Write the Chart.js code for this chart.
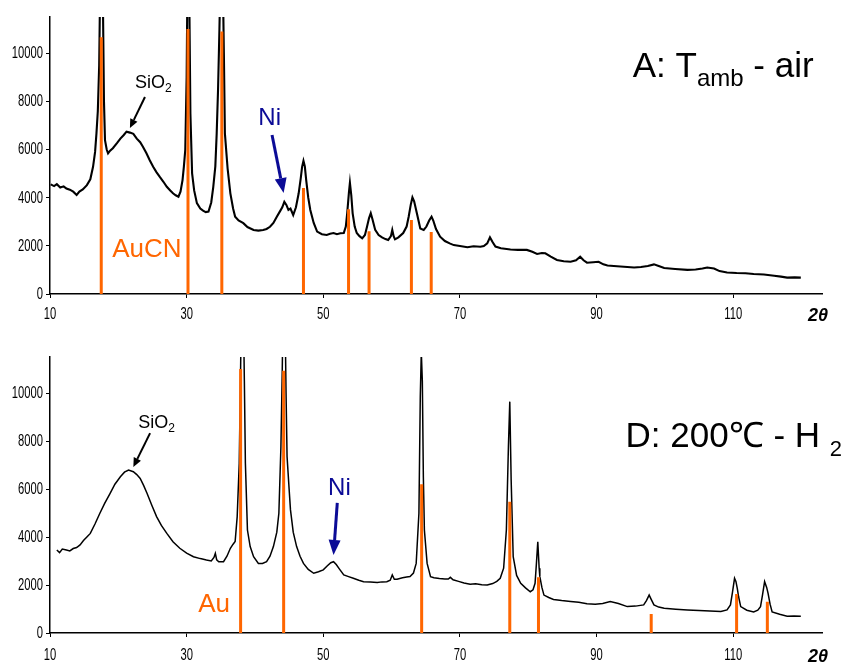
<!DOCTYPE html>
<html>
<head>
<meta charset="utf-8">
<script src="https://cdn.jsdelivr.net/npm/chart.js@4.4.0/dist/chart.umd.min.js"></script>
<style>
  body { margin: 0; background: #fff; width: 852px; height: 662px; overflow: hidden; }
  .panel { position: absolute; left: 0; width: 852px; height: 331px; }
</style>
</head>
<body>
<div class="panel" style="top:0"><canvas id="chart-a"></canvas></div>
<div class="panel" style="top:331px"><canvas id="chart-d"></canvas></div>
<script>
const xTickValues = [10, 30, 50, 70, 90, 110];
const yTickValues = [0, 2000, 4000, 6000, 8000, 10000];

// sample A: T amb - air (2theta, counts)
const twoThetaA = [
  10.1, 10.6, 11.0, 11.5, 12.0, 12.4, 12.9, 13.4, 13.9, 14.3, 14.8, 15.4, 15.9, 16.3, 16.6, 16.8, 17.0, 17.2,
  17.35, 17.55, 17.75, 17.9, 18.05, 18.3, 18.5, 18.8, 19.2, 19.8, 20.3, 20.8, 21.2, 21.7, 22.2, 22.7, 23.2,
  23.6, 24.1, 24.6, 25.1, 25.6, 26.1, 26.6, 27.1, 27.6, 28.0, 28.4, 28.8, 29.1, 29.4, 29.6, 29.8, 30.0, 30.15,
  30.35, 30.55, 30.8, 31.1, 31.5, 32.0, 32.4, 32.8, 33.2, 33.6, 33.9, 34.2, 34.4, 34.6, 34.8, 35.0, 35.25,
  35.45, 35.6, 36.0, 36.4, 36.8, 37.1, 37.6, 38.3, 38.9, 39.8, 40.5, 41.2, 41.7, 42.2, 42.7, 43.2, 43.7, 44.0,
  44.3, 44.6, 44.9, 45.2, 45.6, 46.0, 46.4, 46.7, 46.9, 47.1, 47.3, 47.5, 47.8, 48.1, 48.6, 49.1, 49.8, 50.5,
  51.0, 51.5, 52.0, 52.5, 53.0, 53.3, 53.5, 53.75, 53.9, 54.1, 54.3, 54.6, 54.9, 55.3, 55.7, 56.1, 56.4, 56.7,
  56.95, 57.2, 57.6, 58.1, 58.6, 59.1, 59.5, 59.9, 60.1, 60.3, 60.5, 61.0, 61.7, 62.2, 62.5, 62.8, 63.05, 63.3,
  63.7, 64.2, 64.7, 65.1, 65.5, 65.85, 66.1, 66.5, 67.1, 67.8, 68.5, 69.1, 70.0, 71.1, 72.0, 73.0, 73.5, 74.0,
  74.4, 74.8, 75.2, 76.0, 77.4, 78.5, 79.8, 80.6, 81.3, 82.0, 82.5, 83.3, 84.2, 85.2, 86.2, 87.0, 87.6, 88.1,
  88.6, 89.5, 90.3, 91.0, 91.6, 93.0, 94.5, 95.5, 96.5, 97.5, 98.4, 99.2, 99.9, 101.5, 103.3, 104.5, 105.5,
  106.2, 107.2, 108.0, 109.1, 110.5, 111.8, 113.0, 114.5, 116.0, 117.0, 117.9, 119.0, 119.9
];
const countsA = [
  4550, 4480, 4560, 4420, 4470, 4380, 4330, 4250, 4110, 4250, 4340, 4520, 4760, 5280, 5900, 6670, 7600, 9500,
  13000, 14500, 12000, 8000, 6390, 6000, 5840, 5950, 6050, 6260, 6450, 6600, 6740, 6700, 6650, 6450, 6300,
  6110, 5850, 5550, 5280, 5050, 4850, 4660, 4450, 4300, 4180, 4100, 4040, 4250, 4730, 5300, 5980, 9000, 14000,
  13500, 7500, 5010, 4300, 3770, 3550, 3460, 3400, 3420, 3800, 4450, 5300, 6670, 8500, 11000, 14000, 14000,
  10000, 6670, 5200, 4180, 3550, 3210, 3050, 2940, 2780, 2660, 2630, 2660, 2700, 2790, 2950, 3210, 3450, 3600,
  3830, 3700, 3490, 3550, 3280, 3600, 4180, 4800, 5280, 5530, 5300, 4730, 4000, 3490, 2950, 2590, 2480, 2450,
  2500, 2530, 2480, 2520, 2530, 2800, 3350, 4200, 4620, 4100, 3350, 2800, 2530, 2400, 2310, 2450, 2790, 3150,
  3350, 3100, 2660, 2450, 2350, 2280, 2240, 2400, 2660, 2400, 2270, 2350, 2530, 2800, 3210, 3700, 4010, 3850,
  3350, 2720, 2660, 2800, 3050, 3210, 3050, 2700, 2380, 2200, 2100, 2030, 1990, 1940, 1980, 1960, 1990, 2100,
  2350, 2150, 1970, 1900, 1850, 1830, 1830, 1750, 1660, 1700, 1690, 1550, 1410, 1360, 1340, 1400, 1550, 1400,
  1300, 1320, 1340, 1230, 1180, 1150, 1120, 1100, 1120, 1160, 1230, 1150, 1080, 1040, 1000, 1020, 1060,
  1100, 1060, 950, 890, 870, 860, 830, 810, 760, 720, 680, 690, 680
];
// AuCN reference lines
const refPosA = [17.5, 30.2, 35.15, 47.1, 53.7, 56.7, 62.9, 65.8];
const refIntA = [10660, 11000, 10900, 4400, 3520, 2600, 3070, 2570];

// sample D: 200 C - H2
const twoThetaD = [
  11.0, 11.4, 11.8, 12.4, 12.9, 13.4, 13.9, 14.4, 14.9, 15.4, 15.9, 16.6, 17.3, 18.0, 18.8, 19.5, 20.3, 20.9,
  21.5, 22.2, 22.7, 23.2, 23.7, 24.2, 24.9, 25.6, 26.3, 27.1, 28.0, 29.0, 30.0, 31.0, 32.0, 32.9, 33.6, 34.0,
  34.2, 34.4, 34.7, 35.4, 35.9, 36.4, 36.8, 37.1, 37.4, 37.7, 37.9, 38.05, 38.25, 38.45, 38.6, 38.9, 39.3,
  39.8, 40.5, 41.1, 41.7, 42.2, 42.7, 43.2, 43.5, 43.8, 44.0, 44.15, 44.35, 44.55, 44.7, 45.0, 45.2, 45.6,
  46.1, 46.6, 47.1, 47.8, 48.6, 49.3, 50.0, 50.6, 51.1, 51.5, 51.9, 52.4, 53.0, 53.7, 54.4, 55.2, 55.9, 56.9,
  57.9, 58.6, 59.3, 59.8, 60.1, 60.4, 60.8, 61.6, 62.2, 62.7, 63.2, 63.6, 64.0, 64.2, 64.35, 64.5, 64.65, 64.8,
  65.2, 65.7, 66.2, 67.0, 67.8, 68.3, 68.6, 69.0, 69.8, 70.6, 71.5, 72.3, 73.2, 74.0, 74.8, 75.4, 75.9, 76.4,
  76.8, 77.1, 77.3, 77.5, 77.8, 78.3, 78.9, 79.6, 80.3, 80.7, 81.0, 81.2, 81.4, 81.6, 81.7, 82.0, 82.3, 83.0,
  83.7, 84.9, 86.2, 87.4, 88.6, 89.8, 90.9, 92.0, 93.2, 94.5, 95.7, 96.9, 97.3, 97.7, 98.0, 98.4, 99.1, 99.9,
  101.6, 103.3, 105.0, 106.6, 108.2, 109.1, 109.6, 109.9, 110.2, 110.4, 110.6, 110.8, 111.1, 112.0, 113.0,
  113.6, 114.0, 114.3, 114.6, 114.9, 115.1, 115.4, 115.7, 116.8, 117.9, 118.9, 119.9
];
const countsD = [
  3460, 3350, 3500, 3460, 3420, 3520, 3560, 3670, 3850, 4000, 4150, 4550, 4990, 5400, 5820, 6200, 6510, 6700,
  6790, 6720, 6600, 6440, 6150, 5820, 5320, 4850, 4480, 4150, 3800, 3530, 3330, 3180, 3100, 3040, 3000, 3150,
  3320, 3050, 2970, 2970, 3200, 3530, 3700, 3810, 4850, 7070, 11000, 14500, 14500, 10500, 7070, 4290, 3600,
  3180, 2900, 2900, 2970, 3200, 3600, 4200, 4990, 7760, 11000, 14500, 14500, 10000, 7350, 6000, 5130, 4200,
  3600, 3200, 2900, 2650, 2490, 2550, 2630, 2800, 2930, 2970, 2850, 2650, 2420, 2350, 2280, 2200, 2140, 2120,
  2100, 2130, 2140, 2200, 2420, 2240, 2240, 2300, 2330, 2350, 2500, 2900, 4990, 9850, 11700, 10500, 6500, 4290,
  2900, 2350, 2300, 2270, 2250, 2250, 2320, 2220, 2150, 2080, 2030, 2050, 2010, 2000, 2060, 2150, 2280, 2700,
  4290, 7760, 9640, 6380, 3180, 2400, 2070, 1880, 1720, 1800, 2070, 2900, 3800, 2700, 2350, 1900, 1580, 1480,
  1400, 1350, 1310, 1280, 1220, 1200, 1230, 1310, 1230, 1100, 1120, 1170, 1350, 1580, 1400, 1170, 1080, 1030,
  990, 960, 940, 920, 900, 960, 1170, 1700, 2280, 2150, 1860, 1500, 1100, 950, 880,
  950, 1100, 1600, 2140, 1900, 1660, 1200, 880, 780, 700, 710, 700
];
// Au reference lines
const refPosD = [37.9, 44.2, 64.4, 77.3, 81.5, 98.0, 110.5, 115.0];
const refIntD = [11000, 10930, 6200, 5470, 2320, 790, 1625, 1300];

const ORANGE = '#ff6600';
const NAVY = '#0b0b96';
const TEXT_FONT = "'Liberation Sans', Arial, sans-serif";

// labels and arrows, placed in data coordinates
const notesA = {
  texts: [
    { x: 22.45, y: 8550, color: '#000', runs: [['SiO', 18, 0], ['2', 12, 4]] },
    { x: 40.5, y: 7010, color: NAVY, runs: [['Ni', 24, 0]] },
    { x: 19.1, y: 1540, color: ORANGE, runs: [['AuCN', 26, 0]] },
    { x: 95.3, y: 9000, color: '#000', runs: [['A: T', 35, 0], ['amb', 24, 9], [' - air', 35, 0]] }
  ],
  arrows: [
    { from: [23.9, 8180], to: [21.7, 6890], color: '#000', width: 2, head: 9, half: 4 },
    { from: [42.5, 6600], to: [44.2, 4190], color: NAVY, width: 3, head: 15, half: 6 }
  ],
  tickDy: 21
};
const notesD = {
  texts: [
    { x: 22.9, y: 8540, color: '#000', runs: [['SiO', 18, 0], ['2', 12, 4]] },
    { x: 50.7, y: 5750, color: NAVY, runs: [['Ni', 24, 0]] },
    { x: 31.7, y: 875, color: ORANGE, runs: [['Au', 26, 0]] },
    { x: 94.25, y: 7750, color: '#000', runs: [['D: 200\u2103 - H ', 35, 0], ['2', 22, 9]] }
  ],
  arrows: [
    { from: [24.65, 8330], to: [22.2, 6920], color: '#000', width: 2, head: 9, half: 4 },
    { from: [52.05, 5420], to: [51.5, 3250], color: NAVY, width: 3, head: 15, half: 6 }
  ],
  tickDy: 23
};

// narrow tick labels (the original axis font is condensed)
function narrowText(ctx, s, x, y, align) {
  const k = 0.7;
  ctx.save();
  ctx.font = '16px ' + TEXT_FONT;
  const w = ctx.measureText(s).width * k;
  const left = align === 'right' ? x - w : align === 'center' ? x - w / 2 : x;
  ctx.translate(left, y);
  ctx.scale(k, 1);
  ctx.textAlign = 'left';
  ctx.textBaseline = 'middle';
  ctx.fillText(s, 0, 0);
  ctx.restore();
}

const notesPlugin = {
  id: 'notes',
  afterDraw(chart, args, opts) {
    const ctx = chart.ctx;
    const sx = chart.scales.x, sy = chart.scales.y;
    const n = opts.notes;
    ctx.save();
    ctx.fillStyle = '#000';
    sy.ticks.forEach(t => narrowText(ctx, String(t.value), sx.left - 7, sy.getPixelForValue(t.value) + 0.5, 'right'));
    sx.ticks.forEach(t => narrowText(ctx, String(t.value), sx.getPixelForValue(t.value), sy.bottom + n.tickDy, 'center'));

    n.arrows.forEach(a => {
      const x1 = sx.getPixelForValue(a.from[0]), y1 = sy.getPixelForValue(a.from[1]);
      const x2 = sx.getPixelForValue(a.to[0]), y2 = sy.getPixelForValue(a.to[1]);
      const ang = Math.atan2(y2 - y1, x2 - x1);
      const bx = x2 - Math.cos(ang) * a.head, by = y2 - Math.sin(ang) * a.head;
      ctx.strokeStyle = a.color;
      ctx.fillStyle = a.color;
      ctx.lineWidth = a.width;
      ctx.beginPath();
      ctx.moveTo(x1, y1);
      ctx.lineTo(bx, by);
      ctx.stroke();
      ctx.beginPath();
      ctx.moveTo(x2, y2);
      ctx.lineTo(bx + Math.sin(ang) * a.half, by - Math.cos(ang) * a.half);
      ctx.lineTo(bx - Math.sin(ang) * a.half, by + Math.cos(ang) * a.half);
      ctx.closePath();
      ctx.fill();
    });
    ctx.textBaseline = 'alphabetic';
    ctx.textAlign = 'left';
    n.texts.forEach(t => {
      let x = sx.getPixelForValue(t.x);
      const y = sy.getPixelForValue(t.y);
      ctx.fillStyle = t.color;
      t.runs.forEach(([s, size, dy]) => {
        ctx.font = size + 'px ' + TEXT_FONT;
        ctx.fillText(s, x, y + dy);
        x += ctx.measureText(s).width;
      });
    });
    // axis title
    ctx.fillStyle = '#000';
    ctx.font = 'italic bold 18px ' + TEXT_FONT;
    ctx.fillText('2\u03b8', chart.chartArea.right - 14, chart.chartArea.bottom + n.tickDy + 6);
    ctx.restore();
  }
};

function refLines(pos, vals) {
  const out = [];
  pos.forEach((p, i) => {
    out.push({ x: p, y: 0 }, { x: p, y: vals[i] }, { x: p, y: null });
  });
  return out;
}

function makeChart(id, xs, ys, refPos, refInt, notes, lineW, padTop, xAxisH) {
  return new Chart(document.getElementById(id), {
    type: 'line',
    data: {
      datasets: [
        {
          data: refLines(refPos, refInt),
          borderColor: ORANGE,
          borderWidth: 3,
          borderCapStyle: 'butt',
          pointRadius: 0,
          spanGaps: false,
          order: 0
        },
        {
          data: xs.map((x, i) => ({ x: x, y: ys[i] })),
          borderColor: '#000',
          borderWidth: lineW,
          pointRadius: 0,
          tension: 0,
          order: 1
        }
      ]
    },
    options: {
      responsive: true,
      maintainAspectRatio: false,
      animation: false,
      events: [],
      layout: { padding: { left: 0, top: padTop, right: 30, bottom: 0 } },
      plugins: { legend: { display: false }, tooltip: { enabled: false }, notes: { notes: notes } },
      scales: {
        x: {
          type: 'linear',
          min: 10,
          max: 123,
          afterBuildTicks: s => { s.ticks = xTickValues.map(v => ({ value: v })); },
          afterFit: s => { s.height = xAxisH; },
          ticks: { display: false },
          grid: { drawOnChartArea: false, tickLength: 4, color: '#000' },
          border: { color: '#000', width: 1.5 }
        },
        y: {
          min: 0,
          max: 11500,
          afterBuildTicks: s => { s.ticks = yTickValues.map(v => ({ value: v })); },
          afterFit: s => { s.width = 50; },
          ticks: { display: false },
          grid: { drawOnChartArea: false, tickLength: 4, color: '#000' },
          border: { color: '#000', width: 1.5 }
        }
      }
    },
    plugins: [notesPlugin]
  });
}

makeChart('chart-a', twoThetaA, countsA, refPosA, refIntA, notesA, 2.1, 17, 37);
makeChart('chart-d', twoThetaD, countsD, refPosD, refIntD, notesD, 1.5, 26, 29);
</script>
</body>
</html>
